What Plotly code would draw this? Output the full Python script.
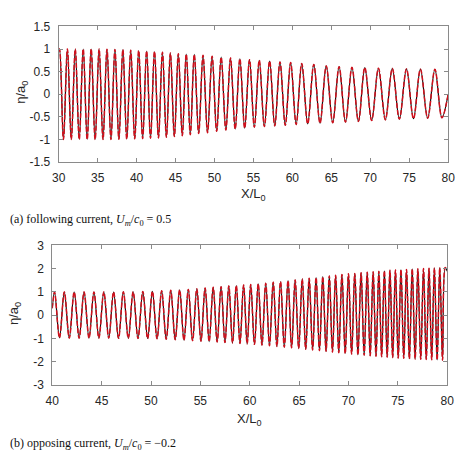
import plotly.graph_objects as go

# ---------------- data ----------------
# (a) following current: crest / trough positions and elevations
a_start = (30.0, 0.97)
a_end = (80.0, 0.0)
a_crest_x = [30.10, 31.12, 32.13, 33.15, 34.17, 35.19, 36.20, 37.22, 38.24, 39.25,
             40.27, 41.29, 42.30, 43.32, 44.34, 45.36, 46.38, 47.41, 48.53, 49.70,
             50.86, 52.06, 53.26, 54.50, 55.75, 57.08, 58.41, 59.78, 61.20, 62.75,
             64.35, 66.00, 67.65, 69.30, 71.05, 72.83, 74.65, 76.44, 78.30]
a_crest_eta = [1.0, 1.0, 1.0, 1.0, 1.0, 1.0, 0.995, 0.99, 0.985, 0.975,
               0.965, 0.955, 0.945, 0.93, 0.91, 0.895, 0.89, 0.88, 0.86, 0.84,
               0.82, 0.80, 0.785, 0.765, 0.75, 0.735, 0.715, 0.70, 0.68, 0.66,
               0.625, 0.61, 0.595, 0.59, 0.575, 0.57, 0.56, 0.555, 0.55]
a_trough_x = [30.61, 31.62, 32.64, 33.66, 34.68, 35.69, 36.71, 37.73, 38.74, 39.76,
              40.78, 41.79, 42.81, 43.83, 44.85, 45.87, 46.90, 47.97, 49.11, 50.28,
              51.46, 52.66, 53.88, 55.12, 56.41, 57.74, 59.09, 60.49, 61.97, 63.55,
              65.18, 66.82, 68.48, 70.18, 71.94, 73.74, 75.55, 77.37, 79.20]
a_trough_eta = [-1.0, -1.0, -1.0, -1.0, -1.0, -1.0, -1.0, -0.995, -0.99, -0.985,
                -0.98, -0.975, -0.965, -0.95, -0.935, -0.915, -0.895, -0.87, -0.85, -0.82,
                -0.79, -0.77, -0.75, -0.73, -0.715, -0.70, -0.685, -0.67, -0.655, -0.64,
                -0.63, -0.615, -0.60, -0.58, -0.565, -0.55, -0.54, -0.53, -0.52]

# (b) opposing current
b_start = (40.0, 0.3)
b_end = (80.0, 1.9)
b_crest_x = [40.23, 41.22, 42.22, 43.22, 44.22, 45.22, 46.21, 47.20, 48.19, 49.17,
             50.14, 51.08, 52.00, 52.90, 53.78, 54.64, 55.48, 56.30, 57.10, 57.88,
             58.64, 59.38, 60.10, 60.86, 61.62, 62.38, 63.12, 63.88, 64.60, 65.32,
             66.02, 66.72, 67.40, 68.06, 68.70, 69.34, 70.00, 70.64, 71.28, 71.90,
             72.50, 73.08, 73.64, 74.20, 74.76, 75.32, 75.88, 76.46, 77.03, 77.60,
             78.16, 78.70, 79.25, 79.80]
b_crest_eta = [1.0, 1.0, 1.0, 1.0, 1.0, 1.0, 1.0, 1.01, 1.01, 1.02,
               1.03, 1.05, 1.07, 1.09, 1.11, 1.14, 1.17, 1.20, 1.23, 1.26,
               1.28, 1.30, 1.32, 1.35, 1.38, 1.42, 1.45, 1.49, 1.52, 1.56,
               1.59, 1.62, 1.66, 1.69, 1.72, 1.75, 1.78, 1.80, 1.83, 1.85,
               1.87, 1.89, 1.91, 1.93, 1.94, 1.96, 1.97, 1.99, 2.0, 2.01,
               2.02, 2.03, 2.04, 2.05]
b_trough_x = [40.73, 41.72, 42.72, 43.72, 44.72, 45.72, 46.71, 47.70, 48.68, 49.66,
              50.61, 51.54, 52.45, 53.34, 54.21, 55.06, 55.89, 56.70, 57.49, 58.26,
              59.01, 59.74, 60.48, 61.24, 62.00, 62.75, 63.50, 64.24, 64.96, 65.67,
              66.37, 67.06, 67.73, 68.38, 69.02, 69.67, 70.32, 70.96, 71.59, 72.20,
              72.79, 73.36, 73.92, 74.48, 75.04, 75.60, 76.17, 76.75, 77.32, 77.88,
              78.43, 78.98, 79.53]
b_trough_eta = [-0.97, -0.98, -0.98, -0.98, -0.98, -0.98, -0.99, -0.99, -1.0, -1.0,
                -1.01, -1.03, -1.05, -1.07, -1.09, -1.11, -1.13, -1.15, -1.17, -1.19,
                -1.21, -1.23, -1.25, -1.28, -1.31, -1.34, -1.37, -1.40, -1.43, -1.46,
                -1.49, -1.52, -1.55, -1.58, -1.61, -1.64, -1.67, -1.70, -1.72, -1.74,
                -1.76, -1.78, -1.80, -1.82, -1.84, -1.85, -1.87, -1.88, -1.89, -1.90,
                -1.91, -1.92, -1.93]

a_xticks = [30, 35, 40, 45, 50, 55, 60, 65, 70, 75, 80]
a_yticks = [-1.5, -1, -0.5, 0, 0.5, 1, 1.5]
a_yticklabels = ["-1.5", "-1", "-0.5", "0", "0.5", "1", "1.5"]
b_xticks = [40, 45, 50, 55, 60, 65, 70, 75, 80]
b_yticks = [-3, -2, -1, 0, 1, 2, 3]
b_yticklabels = ["-3", "-2", "-1", "0", "1", "2", "3"]


def build_series(start, crest_x, crest_eta, trough_x, trough_eta, end):
    pts = [start] + list(zip(crest_x, crest_eta)) + list(zip(trough_x, trough_eta)) + [end]
    pts.sort(key=lambda p: p[0])
    return [p[0] for p in pts], [p[1] for p in pts]


ax_x, ax_y = build_series(a_start, a_crest_x, a_crest_eta, a_trough_x, a_trough_eta, a_end)
bx_x, bx_y = build_series(b_start, b_crest_x, b_crest_eta, b_trough_x, b_trough_eta, b_end)

W, H = 460, 457
BLACK = "#111111"
RED = "#d0101c"
AXC = "#8a8a8a"
TXT = "#262626"
SANS = "Liberation Sans, Arial, sans-serif"
SERIF = "Liberation Serif, Times New Roman, serif"

fig = go.Figure()
for xs, ys, xa, ya in [(ax_x, ax_y, "x", "y"), (bx_x, bx_y, "x2", "y2")]:
    fig.add_trace(go.Scatter(x=xs, y=ys, mode="lines", xaxis=xa, yaxis=ya,
                             line=dict(color=BLACK, width=1.2, shape="spline", smoothing=1),
                             showlegend=False, hoverinfo="skip"))
    fig.add_trace(go.Scatter(x=xs, y=ys, mode="lines", xaxis=xa, yaxis=ya,
                             line=dict(color=RED, width=1.5, shape="spline", smoothing=1,
                                       dash="5px,2px"),
                             showlegend=False, hoverinfo="skip"))


def px_x(p):
    return p / W


def px_y(p):
    return 1 - p / H


axis_common = dict(showgrid=False, zeroline=False, showline=True, mirror="ticks",
                   linecolor=AXC, linewidth=1, ticks="inside", ticklen=4,
                   tickcolor=AXC, ticklabelstandoff=5, ticklabeloverflow="allow",
                   tickfont=dict(family=SANS, size=12, color=TXT))

fig.update_layout(
    width=W, height=H, margin=dict(l=0, r=0, t=0, b=0),
    paper_bgcolor="white", plot_bgcolor="white",
    xaxis=dict(domain=[px_x(53.3), px_x(455)], range=[30, 80.0001], tickvals=a_xticks,
               ticktext=[str(v) for v in a_xticks], anchor="y", **axis_common),
    yaxis=dict(domain=[px_y(160), px_y(20)], range=[-1.5001, 1.5001], tickvals=a_yticks,
               ticktext=a_yticklabels, anchor="x", **axis_common),
    xaxis2=dict(domain=[px_x(46.7), px_x(454)], range=[40, 80.0001], tickvals=b_xticks,
                ticktext=[str(v) for v in b_xticks], anchor="y2", **axis_common),
    yaxis2=dict(domain=[px_y(390), px_y(246)], range=[-3.0001, 3.0001], tickvals=b_yticks,
                ticktext=b_yticklabels, anchor="x2", **axis_common),
)

ann = [
    dict(text="X/L<sub>0</sub>", x=px_x(254), y=px_y(193), font=dict(family=SANS, size=13, color=TXT)),
    dict(text="η/a<sub>0</sub>", x=px_x(15), y=px_y(88), textangle=-90, font=dict(family=SANS, size=13, color=TXT)),
    dict(text="X/L<sub>0</sub>", x=px_x(250), y=px_y(426), font=dict(family=SANS, size=13, color=TXT)),
    dict(text="η/a<sub>0</sub>", x=px_x(8), y=px_y(316), textangle=-90, font=dict(family=SANS, size=13, color=TXT)),
]
for a in ann:
    fig.add_annotation(xref="paper", yref="paper", showarrow=False,
                       xanchor="center", yanchor="middle", **a)

fig.add_annotation(xref="paper", yref="paper", showarrow=False, xanchor="left", yanchor="middle",
                   x=px_x(1), y=px_y(220),
                   text="(a) following current, <i>U<sub>m</sub></i>/<i>c</i><sub>0</sub> = 0.5",
                   font=dict(family=SERIF, size=12, color="#111111"))
fig.add_annotation(xref="paper", yref="paper", showarrow=False, xanchor="left", yanchor="middle",
                   x=px_x(1), y=px_y(451),
                   text="(b) opposing current, <i>U<sub>m</sub></i>/<i>c</i><sub>0</sub> = −0.2",
                   font=dict(family=SERIF, size=12, color="#111111"))

fig.write_html("out.html")
